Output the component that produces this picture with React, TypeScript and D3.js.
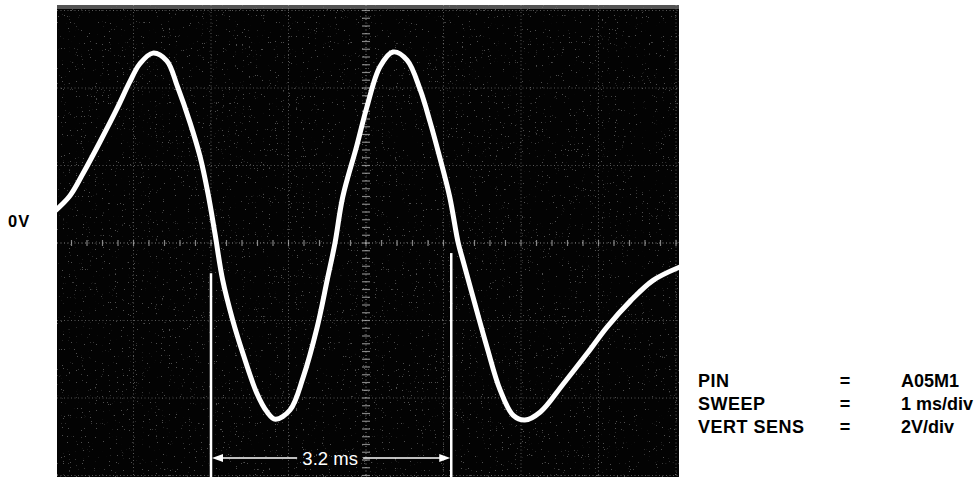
import React from "react";
import * as d3 from "d3";

// Trace: time (ms) and voltage (V)
const traceTime = [0.0, 0.18, 0.35, 0.57, 0.79, 0.95, 1.08, 1.25, 1.43, 1.57, 1.73, 1.86, 1.96, 2.05, 2.15, 2.28, 2.41, 2.59, 2.72, 2.83, 3.02, 3.19, 3.37, 3.5, 3.6, 3.7, 3.88, 4.01, 4.18, 4.35, 4.53, 4.7, 4.83, 4.95, 5.08, 5.19, 5.25, 5.38, 5.56, 5.73, 5.9, 6.05, 6.25, 6.54, 6.85, 7.11, 7.41, 7.7, 8.05];
const traceVolt = [0.85, 1.22, 1.8, 2.62, 3.48, 4.15, 4.62, 4.9, 4.7, 4.02, 3.1, 2.22, 1.29, 0.26, -0.95, -1.99, -2.84, -3.87, -4.35, -4.55, -4.31, -3.46, -2.17, -0.95, 0.0, 1.19, 2.5, 3.5, 4.55, 4.93, 4.72, 3.95, 3.1, 2.22, 1.19, 0.0, -0.44, -1.39, -2.68, -3.79, -4.45, -4.57, -4.36, -3.65, -2.86, -2.17, -1.5, -0.97, -0.62];

const markerStart = 2.0; // ms
const markerEnd = 5.1; // ms
const markerTopVolt = [-0.78, -0.26];
const periodLabel = "3.2 ms";
const zeroLabel = "0V";

const legendKeys = ["PIN", "SWEEP", "VERT SENS"];
const legendValues = ["A05M1", "1 ms/div", "2V/div"];

const xDivs = [0, 1, 2, 3, 4, 5, 6, 7, 8];
const yDivs = [-6, -4, -2, 0, 2, 4, 6];

export default function App() {
  const W = 976, H = 479;
  const x = d3.scaleLinear().domain([0, 8]).range([56, 676]);
  const y = d3.scaleLinear().domain([-6, 6]).range([475.5, 10.5]);
  const screen = { x0: 57, x1: 679, y0: 5, y1: 477 };

  const pts = traceTime.map((t, i) => [x(t), y(traceVolt[i])] as [number, number]);
  const line = d3.line().curve(d3.curveCatmullRom.alpha(0.5))(pts) || "";

  const minorX = d3.range(0, 8.001, 0.2);
  const minorY = d3.range(-6, 6.001, 0.2);

  const arrowY = 458;
  const xs = x(markerStart);
  const xe = x(markerEnd);
  const textMid = (xs + xe) / 2;

  return (
    <svg width={W} height={H} style={{ position: "absolute", left: 0, top: 0, background: "#fff" }}
      fontFamily="'Liberation Sans', Arial, Helvetica, sans-serif">
      <defs>
        <clipPath id="scr">
          <rect x={screen.x0} y={screen.y0} width={screen.x1 - screen.x0} height={screen.y1 - screen.y0} />
        </clipPath>
        <filter id="grain" x="0" y="0" width="100%" height="100%">
          <feTurbulence type="fractalNoise" baseFrequency="0.85" numOctaves="1" seed="3" result="n" />
          <feColorMatrix in="n" type="matrix"
            values="0 0 0 0 1  0 0 0 0 1  0 0 0 0 1  0 0 0 25 -17.5" />
        </filter>
      </defs>
      <rect x={screen.x0} y={screen.y0} width={screen.x1 - screen.x0} height={screen.y1 - screen.y0} fill="#030303" />
      <rect x={screen.x0} y={screen.y0} width={screen.x1 - screen.x0} height={screen.y1 - screen.y0}
        filter="url(#grain)" opacity={0.3} />
      <rect x={screen.x0} y={screen.y0} width={screen.x1 - screen.x0} height={4} fill="#777" opacity={0.7} />
      <g clipPath="url(#scr)">
        {xDivs.map((d) => (
          <line key={"vx" + d} x1={x(d)} x2={x(d)} y1={screen.y0} y2={screen.y1}
            stroke="#aaa" strokeWidth={1} strokeDasharray="1 2.5" opacity={d === 4 ? 0.8 : 0.5} />
        ))}
        {yDivs.map((d) => (
          <line key={"hy" + d} x1={screen.x0} x2={screen.x1} y1={y(d)} y2={y(d)}
            stroke="#aaa" strokeWidth={1} strokeDasharray="1 2.5" opacity={d === 0 ? 0.8 : 0.5} />
        ))}
        {minorY.map((v, i) => (
          <line key={"my" + i} x1={x(4) - 4} x2={x(4) + 4} y1={y(v)} y2={y(v)} stroke="#bbb" strokeWidth={1.2} opacity={0.7} />
        ))}
        {minorX.map((t, i) => (
          <line key={"mx" + i} x1={x(t)} x2={x(t)} y1={y(0) - 3} y2={y(0) + 3} stroke="#bbb" strokeWidth={1.2} opacity={0.7} />
        ))}
        <path d={line} fill="none" stroke="#fff" strokeWidth={5} strokeLinecap="round" strokeLinejoin="round" />
      </g>
      {/* period markers */}
      <line x1={xs} x2={xs} y1={y(markerTopVolt[0])} y2={screen.y1} stroke="#fff" strokeWidth={2.5} />
      <line x1={xe} x2={xe} y1={y(markerTopVolt[1])} y2={screen.y1} stroke="#fff" strokeWidth={2.5} />
      <line x1={xs + 8} x2={textMid - 34} y1={arrowY} y2={arrowY} stroke="#fff" strokeWidth={1.5} />
      <line x1={textMid + 32} x2={xe - 8} y1={arrowY} y2={arrowY} stroke="#fff" strokeWidth={1.5} />
      <path d={`M${xs + 1},${arrowY} L${xs + 12},${arrowY - 4} L${xs + 12},${arrowY + 4} Z`} fill="#fff" />
      <path d={`M${xe - 1},${arrowY} L${xe - 12},${arrowY - 4} L${xe - 12},${arrowY + 4} Z`} fill="#fff" />
      <text x={textMid - 1} y={arrowY + 7} fill="#fff" fontSize={18.5} textAnchor="middle">{periodLabel}</text>
      {/* 0V label */}
      <text x={8} y={227} fontSize={16.5} fontWeight="bold" letterSpacing={1} fill="#000">{zeroLabel}</text>
      {/* legend */}
      {legendKeys.map((k, i) => (
        <g key={k} fontSize={18} fontWeight="bold" fill="#000">
          <text x={698} y={387 + i * 23} letterSpacing={0.5}>{k}</text>
          <text x={845} y={387 + i * 23} textAnchor="middle">=</text>
          <text x={901} y={387 + i * 23}>{legendValues[i]}</text>
        </g>
      ))}
    </svg>
  );
}
